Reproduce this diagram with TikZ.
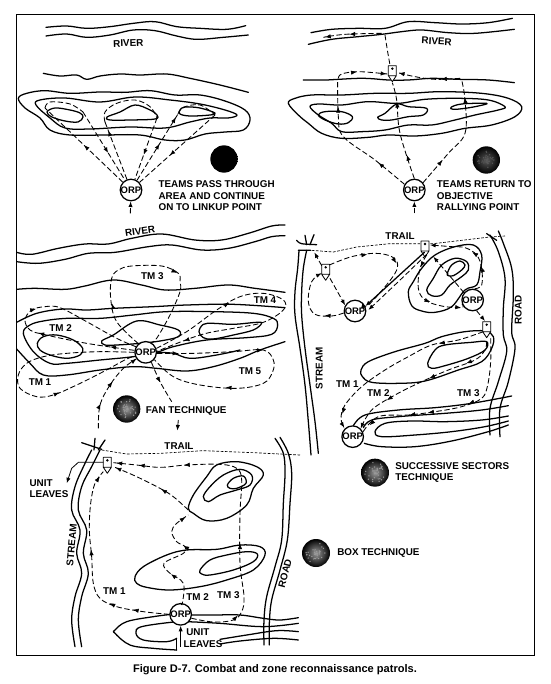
\documentclass[tikz,border=0pt]{standalone}
\usepackage{fontspec}
\setmainfont{Liberation Sans}
\usetikzlibrary{arrows.meta,decorations.markings}
\newcommand\sol[1]{\draw[hill] plot[smooth,tension=0.6] coordinates {#1};}
\newcommand\cyc[1]{\draw[hill] plot[smooth cycle,tension=0.6] coordinates {#1};}
\newcommand\dsh[2]{\draw[tour,ma/.style={},#1] plot[smooth,tension=0.6] coordinates {#2};\path[#1] plot[sharp plot] coordinates {#2};}
\newcommand\boatmark[2]{\draw[boatline] ({#1-12},{#2}) -- ({#1+12},{#2}) -- ({#1+12},{#2+30}) -- ({#1},{#2+48}) -- ({#1-12},{#2+30}) -- cycle ({#1-12},{#2+30}) -- ({#1+12},{#2+30});\fill ({#1},{#2+9}) circle (4);}
\newcommand\techdot[4]{\shade[inner color=#4,outer color=black] (#1,#2) circle (#3);
 \pgfmathsetseed{#1}\foreach \i in {1,...,40}{\pgfmathsetmacro\aa{rnd*360}\pgfmathsetmacro\rr{rnd*0.75*#3}\fill[#4] ({#1+\rr*cos(\aa)},{#2+\rr*sin(\aa)}) circle ({#3/19});}}
\tikzset{
 hill/.style={line width=0.95pt,line join=round,line cap=round},
 tour/.style={line width=0.65pt,dash pattern=on 4pt off 2pt},
 fine/.style={line width=0.5pt,dash pattern=on 2pt off 1.2pt},
 ma/.style={postaction={decorate,decoration={markings,mark=at position #1 with {\arrow{Latex[length=4.2pt,width=3.2pt]}}}}},
 tip/.style={-{Latex[length=4.2pt,width=3.2pt]}},
 boatline/.style={line width=0.6pt,fill=white,line join=round},
 orp/.style={circle,draw,line width=0.95pt,fill=white,minimum size=15.8pt,inner sep=0pt,font=\bfseries\fontsize{7.1}{7}\selectfont},
 lab/.style={font=\bfseries\fontsize{7.4}{8}\selectfont,inner sep=0pt},
 labl/.style={lab,anchor=west,align=left},
 zA/.style={x=0.25pt,y=-0.25pt},
 zB/.style={shift={(275,0)},x=0.25pt,y=-0.25pt},
 zC/.style={shift={(0,235)},x=0.25pt,y=-0.25pt},
 zD/.style={shift={(285,235)},x=0.25pt,y=-0.25pt},
 zE/.style={shift={(20,430)},x=0.25pt,y=-0.25pt},
}
\begin{document}
\begin{tikzpicture}[x=0.75pt,y=-0.75pt]
\useasboundingbox[fill=white] (0,0) rectangle (550,684);
\draw[line width=0.7pt] (16,655) -- (16,14) -- (534,14) -- (534,655) -- (16,655);
\node[font=\bfseries\fontsize{8.3}{9}\selectfont,inner sep=0pt] (caption) at (275,670) {Figure D-7. Combat and zone reconnaissance patrols.};
% ---------- panel 1
\begin{scope}[zA]
\sol{(138,82)(200,78)(260,85)(330,80)(400,70)(465,65)(530,80)(600,85)(680,88)(737,77)}
\sol{(138,108)(200,102)(260,112)(330,105)(400,90)(465,92)(530,108)(590,118)(670,112)(745,105)}
\sol{(130,220)(180,228)(230,225)(260,238)(300,228)(360,222)(420,225)(500,222)(570,235)(660,255)(745,277)}
\cyc{(55,295)(80,280)(135,272)(210,280)(300,276)(375,277)(450,272)(525,285)(600,285)(675,303)(735,330)(750,360)(730,390)(675,396)(615,402)(555,420)(495,420)(420,405)(315,405)(210,405)(150,390)(120,354)(75,324)}
\cyc{(108,315)(120,300)(195,294)(300,306)(405,291)(510,300)(600,312)(675,330)(711,345)(684,354)(630,354)(570,366)(495,384)(390,381)(270,387)(195,384)(150,354)}
\cyc{(141,336)(165,324)(210,330)(240,339)(249,351)(234,366)(195,363)(156,351)}
\cyc{(321,351)(360,336)(405,315)(450,330)(471,345)(465,357)(390,360)(330,360)}
\cyc{(540,330)(555,321)(600,324)(645,339)(630,345)(570,348)(540,342)}
\node[orp] (orpA) at (393,570) {ORP};
\coordinate (a1) at (135,324);\coordinate (a2) at (249,336);\coordinate (a3) at (315,366);\coordinate (a4) at (471,354);\coordinate (a5) at (534,342);\coordinate (a6) at (645,345);
\draw[tour,ma=0.5] (orpA) -- (a1);
\draw[tour,ma=0.6] (a2) -- (orpA);
\draw[tour,ma=0.85] (orpA) -- (a3);
\draw[tour,ma=0.6] (a4) -- (orpA);
\draw[tour,ma=0.55,ma=0.95] (orpA) -- (a5);
\draw[tour,ma=0.6] (a6) -- (orpA);
\dsh{}{(a1)(150,306)(210,312)(249,336)}
\dsh{}{(a3)(315,336)(350,310)(405,300)(450,320)(471,354)}
\dsh{}{(a5)(550,322)(600,315)(645,345)}
\coordinate (a7) at (391,640);
\draw[tour,tip] (a7) -- (orpA);
\node[lab,rotate=2] (riverA) at (385,130) {RIVER};
\techdot{672}{477}{41}{black}
\node[labl] (tA) at (475,552) {TEAMS PASS THROUGH};
\node[labl] (tB) at (475,589) {AREA AND CONTINUE};
\node[labl] (tC) at (475,622) {ON TO LINKUP POINT};
\end{scope}
% ---------- panel 2
\begin{scope}[zB]
\sol{(108,98)(170,88)(250,85)(330,85)(400,65)(480,68)(560,72)(640,68)(712,55)}
\sol{(100,133)(170,118)(250,110)(320,103)(380,95)(440,90)(520,98)(600,100)(718,88)}
\sol{(85,240)(150,240)(190,238)(250,235)(290,236)(340,240)(400,240)(470,235)(550,238)(640,240)(718,248)}
\cyc{(40,310)(60,295)(110,285)(200,285)(300,280)(400,280)(500,275)(620,280)(700,295)(740,320)(720,350)(650,375)(570,385)(500,400)(420,408)(340,405)(280,412)(200,415)(140,400)(100,370)(70,345)}
\cyc{(105,320)(130,312)(200,315)(280,305)(370,310)(450,298)(550,295)(640,300)(690,320)(670,330)(600,345)(540,360)(470,375)(400,375)(330,390)(260,395)(200,395)(170,370)(130,345)}
\cyc{(130,345)(150,335)(200,335)(232,350)(220,368)(190,372)(150,360)}
\cyc{(308,352)(330,340)(365,312)(400,320)(455,325)(445,345)(400,350)(350,360)(320,360)}
\cyc{(528,322)(560,312)(635,310)(610,318)(570,325)(535,328)}
\node[orp] (orpB) at (418,570) {ORP};
\boatmark{352}{197}
\dsh{ma=0.55,ma=0.97}{(320,100)(210,103)(145,112)}
\dsh{}{(330,105)(337,150)(345,195)}
\dsh{ma=0.4,ma=0.98}{(190,235)(200,222)(250,215)(337,222)}
\dsh{ma=0.3,ma=0.98}{(555,235)(480,238)(420,230)(368,218)}
\dsh{ma=0.25,ma=0.8}{(orpB.150)(300,480)(205,410)(190,350)(188,240)}
\dsh{ma=0.25,ma=0.8}{(orpB.north)(375,400)(365,300)(352,248)}
\dsh{ma=0.25,ma=0.85}{(orpB.40)(520,460)(570,400)(570,300)(560,240)}
\coordinate (b7) at (418,640);
\draw[tour,tip] (b7) -- (orpB);
\node[lab,rotate=-3] (riverB) at (485,124) {RIVER};
\techdot{634}{480}{41}{gray!70!black}
\node[labl] (tD) at (485,552) {TEAMS RETURN TO};
\node[labl] (tE) at (485,589) {OBJECTIVE};
\node[labl] (tF) at (485,622) {RALLYING POINT};
\end{scope}
% ---------- panel 3
\begin{scope}[zC]
\sol{(50,52)(95,58)(175,40)(255,27)(325,27)(395,10)(485,-3)(585,15)(665,15)(745,-5)(815,-27)(855,-30)}
\sol{(50,80)(115,85)(195,73)(265,55)(345,52)(445,35)(515,30)(605,45)(685,40)(765,20)(815,5)(855,2)}
\sol{(50,163)(105,160)(195,163)(255,153)(340,135)(425,150)(495,165)(585,160)(685,150)(765,160)(855,172)}
\sol{(50,262)(110,235)(190,222)(260,225)(340,220)(460,215)(560,210)(700,208)(855,218)}
\cyc{(70,295)(90,270)(130,258)(200,250)(300,250)(400,240)(500,230)(640,230)(760,235)(820,250)(833,270)(815,298)(740,308)(620,315)(520,335)(470,352)(400,365)(300,375)(200,385)(150,385)(100,350)}
\sol{(50,342)(90,385)(130,420)(200,420)(300,405)(400,395)(470,400)(560,408)(640,395)(720,370)(780,345)(855,320)}
\sol{(470,352)(520,355)(570,370)(650,360)(720,345)}
\cyc{(112,325)(130,305)(170,300)(220,315)(248,340)(240,360)(200,370)(150,360)(120,345)}
\cyc{(305,318)(340,300)(410,258)(480,270)(535,285)(535,305)(480,318)(420,325)(350,330)(315,330)}
\cyc{(597,290)(610,268)(640,265)(700,268)(770,262)(785,265)(760,285)(700,300)(640,312)(610,308)}
\node[orp] (orpC) at (437,352) {ORP};
\dsh{ma=0.68}{(orpC.west)(300,350)(200,355)(130,365)(80,385)(55,420)(60,460)(110,485)(160,480)(230,450)(310,410)(380,372)(orpC.200)}
\dsh{ma=0.1,ma=0.4,ma=0.55}{(orpC.170)(260,325)(130,298)(90,285)(75,255)(95,225)(135,215)(180,218)(260,260)(350,310)(orpC.150)}
\dsh{ma=0.22,ma=0.65}{(orpC.130)(350,260)(332,190)(335,130)(355,105)(395,93)(485,93)(535,115)(540,140)(540,170)(510,240)(470,310)(orpC.60)}
\dsh{ma=0.3,ma=0.9}{(orpC.20)(560,290)(650,225)(720,185)(790,175)(850,195)(850,225)(790,262)(700,280)(600,300)(orpC.5)}
\dsh{ma=0.08,ma=0.4,ma=0.7}{(orpC.-5)(580,355)(700,350)(790,345)(820,375)(818,410)(790,445)(710,460)(600,450)(520,425)(orpC.-40)}
\coordinate (c1) at (295,580);
\dsh{ma=0.3,ma=0.6,ma=1}{(c1)(300,510)(330,450)(370,400)(orpC.215)}
\coordinate (c2) at (515,500);
\dsh{ma=0.5}{(orpC.-60)(480,440)(c2)}
\coordinate (c3) at (535,555);\coordinate (c4) at (532,587);
\draw[tour,tip] (c3) -- (c4);
\node[lab,rotate=8] (riverC) at (420,-12) {RIVER};
\node[lab] (tm3) at (457,122) {TM 3};
\node[lab] (tm2) at (182,278) {TM 2};
\node[lab] (tm4) at (795,195) {TM 4};
\node[lab] (tm1) at (120,440) {TM 1};
\node[lab] (tm5) at (750,407) {TM 5};
\techdot{380}{522}{41}{gray!80}
\node[labl] (tG) at (437,528) {FAN TECHNIQUE};
\end{scope}
% ---------- panel 4
\begin{scope}[zD]
\sol{(42,46)(38,100)(30,170)(30,240)(45,340)(60,450)(70,560)(78,660)}
\sol{(65,46)(55,100)(50,170)(50,240)(60,340)(75,450)(90,560)(100,655)}
\draw[hill] (40,46) -- (77,46) (60,1) -- (65,29) (87,-1) -- (75,29);
\sol{(35,16)(50,26)(95,29)}
\draw[fine] (80,46) -- (145,51) -- (215,36) -- (315,26) -- (410,26) -- (445,26) -- (615,6) -- (660,3);
\draw[hill] (605,-4) -- (635,16);
\sol{(615,0)(640,50)(660,130)(655,220)(655,300)(665,350)(640,440)(615,520)(615,600)}
\sol{(640,-12)(655,25)(680,100)(685,180)(680,290)(690,340)(670,440)(645,520)(645,605)}
\cyc{(370,170)(385,140)(410,100)(450,60)(510,35)(565,30)(590,60)(585,110)(575,150)(540,165)(500,215)(450,232)(410,228)(380,212)}
\cyc{(425,165)(445,130)(470,90)(510,70)(545,80)(550,105)(530,125)(495,150)(470,180)(440,182)}
\cyc{(487,115)(500,90)(525,78)(540,90)(530,105)(505,122)(490,122)}
\cyc{(228,405)(250,380)(330,350)(420,325)(470,305)(540,290)(600,288)(625,305)(620,340)(590,380)(520,405)(420,438)(340,445)(260,442)(232,425)}
\cyc{(428,385)(450,345)(480,330)(560,322)(605,320)(600,345)(550,370)(480,392)(440,400)}
\sol{(205,572)(240,540)(340,525)(450,518)(560,505)(680,483)}
\sol{(235,578)(260,555)(340,545)(480,535)(590,525)(670,512)}
\sol{(670,543)(590,555)(480,560)(380,558)(300,565)(270,590)(290,605)(390,600)(500,590)(600,575)(670,558)}
\sol{(238,625)(290,635)(390,635)(500,618)(610,590)(670,570)}
\node[orp] (orpD) at (210,228) {ORP};
\node[orp] (orpE) at (563,195) {ORP};
\node[orp] (orpF) at (203,605) {ORP};
\boatmark{122}{88}
\boatmark{420}{18}
\boatmark{605}{260}
\coordinate (d1) at (88,52);\coordinate (d2) at (110,92);
\draw[tour,tip] (d2) -- (d1);
\dsh{ma=0.3,ma=0.55,tip}{(133,90)(200,65)(270,55)(320,65)(338,90)(320,130)(250,210)(orpD.50)}
\dsh{ma=0.25,tip}{(orpD.190)(140,243)(90,238)(70,200)(80,140)(110,115)}
\coordinate (d3) at (135,130);
\draw[tour,tip] (d3) -- (orpD.150);
\draw[hill,tip] (418,52) -- (orpD.25);
\dsh{tip}{(425,58)(340,140)(250,225)}
\coordinate (d4) at (445,65);
\draw[tour,tip] (orpE.140) -- (d4);
\dsh{ma=0.3,ma=0.5,tip}{(orpE.80)(590,150)(590,100)(575,60)(540,38)(500,35)(435,30)}
\dsh{ma=0.15,ma=0.6,ma=0.95}{(425,60)(405,100)(400,160)(420,195)(470,213)(530,218)(orpE.200)}
\draw[tour,tip] (orpE.-70) -- (600,258);
\dsh{ma=0.25,ma=0.92,tip}{(595,290)(520,315)(440,330)(370,365)(300,405)(230,455)(180,510)(168,550)(178,578)}
\dsh{ma=0.2,ma=0.45,ma=0.75,tip}{(605,320)(600,345)(570,375)(490,405)(410,440)(330,480)(260,525)(orpF.45)}
\dsh{ma=0.4,ma=0.62,ma=0.72,ma=0.95}{(617,310)(617,380)(608,450)(590,490)(530,515)(450,530)(370,540)(280,545)(orpF.25)}
\node[lab] (tr1) at (345,3) {TRAIL};
\node[lab,rotate=90] (road1) at (700,225) {ROAD};
\node[lab,rotate=90] (str1) at (103,400) {STREAM};
\node[lab] (tm1b) at (187,448) {TM 1};
\node[lab] (tm2b) at (280,473) {TM 2};
\node[lab] (tm3b) at (550,475) {TM 3};
\techdot{270}{713}{42}{gray!80}
\node[labl] (tH) at (330,693) {SUCCESSIVE SECTORS};
\node[labl] (tI) at (330,730) {TECHNIQUE};
\end{scope}
% ---------- panel 5
\begin{scope}[zE]
\sol{(215,60)(195,100)(165,170)(155,240)(180,300)(170,370)(185,430)(165,500)(155,570)(165,650)}
\sol{(240,60)(215,110)(185,170)(175,240)(200,300)(190,370)(205,430)(185,500)(175,570)(185,650)}
\draw[hill] (185,38) -- (245,58) (225,25) -- (222,60) (255,30) -- (235,60);
\draw[fine] (245,60) -- (320,72) -- (420,70) -- (550,62) -- (700,68) -- (840,75);
\sol{(765,25)(790,70)(795,130)(790,220)(785,330)(765,410)(740,500)(732,570)(732,645)}
\sol{(780,22)(805,70)(815,130)(810,220)(802,330)(780,420)(755,510)(748,580)(748,645)}
\cyc{(505,235)(520,195)(560,140)(590,105)(650,95)(710,110)(730,135)(700,175)(680,225)(620,265)(560,272)(520,250)}
\cyc{(550,200)(570,170)(610,135)(660,118)(695,135)(690,165)(650,180)(600,195)(565,215)}
\cyc{(622,165)(640,145)(670,138)(678,160)(650,175)(630,175)}
\cyc{(345,440)(370,410)(440,375)(500,360)(590,358)(660,345)(720,350)(735,375)(700,420)(620,450)(540,470)(450,480)(380,472)(350,460)}
\cyc{(540,420)(570,390)(620,375)(680,365)(712,372)(700,395)(640,420)(570,435)(545,432)}
\sol{(470,660)(400,655)(330,645)(285,610)(285,600)(320,575)(400,560)(470,552)(510,555)(580,555)(660,555)(730,565)(780,570)(835,563)}
\sol{(470,625)(440,635)(370,630)(348,610)(365,590)(470,575)(500,575)(600,580)(730,590)(835,580)}
\sol{(470,625)(470,660)}
\sol{(600,628)(680,615)(770,602)(835,605)}
\sol{(600,642)(660,633)(760,625)(835,630)}
\node[orp] (orpG) at (482,553) {ORP};
\boatmark{262}{82}
\draw[line width=0.6pt,tip] (250,97) -- (175,97) -- (155,115) -- (140,160);
\dsh{ma=0.18,ma=0.3,ma=0.6,ma=0.97}{(orpG.west)(370,545)(290,530)(240,505)(220,460)(215,380)(208,300)(212,220)(225,160)(250,125)}
\dsh{ma=0.3,ma=0.65,ma=0.97}{(orpG.north)(487,520)(490,460)(450,430)(432,400)(490,370)(495,350)(470,335)(455,305)(470,280)(505,255)}
\dsh{ma=0.4,ma=0.99}{(505,240)(460,200)(420,175)(350,140)(285,112)}
\dsh{ma=0.15,ma=0.38,ma=0.78,ma=0.92,ma=0.99}{(orpG.-20)(580,576)(640,570)(665,545)(672,500)(660,400)(660,250)(665,150)(650,115)(600,103)(500,105)(420,112)(350,105)(280,98)}
\coordinate (e1) at (482,650);
\draw[line width=0.65pt,tip] (e1) -- (orpG);
\node[lab] (tr2) at (477,48) {TRAIL};
\node[lab,rotate=85] (str2) at (155,345) {STREAM};
\node[lab,rotate=75] (road2) at (795,430) {ROAD};
\node[labl] (tJ) at (28,160) {UNIT};
\node[labl] (tK) at (28,193) {LEAVES};
\node[lab] (tm1c) at (283,483) {TM 1};
\node[lab] (tm2c) at (533,500) {TM 2};
\node[lab] (tm3c) at (625,495) {TM 3};
\node[labl] (tL) at (498,607) {UNIT};
\node[labl] (tM) at (490,643) {LEAVES};
\end{scope}
\techdot{316}{553}{14}{gray!80}
\node[labl] (tN) at (337,553) {BOX TECHNIQUE};
\end{tikzpicture}
\end{document}
